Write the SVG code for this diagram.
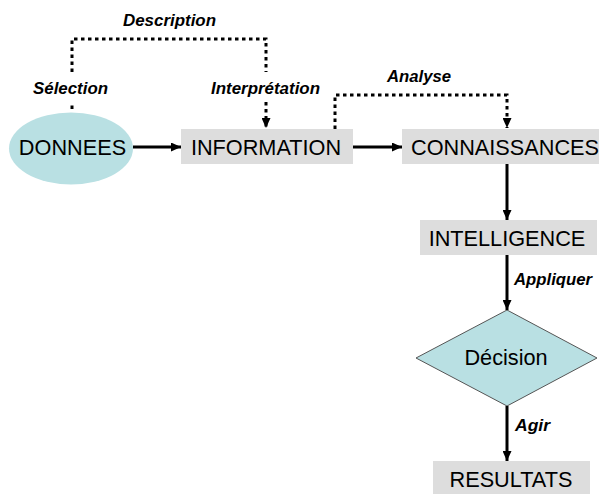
<svg xmlns="http://www.w3.org/2000/svg" width="599" height="494" viewBox="0 0 599 494">
<style>
.box{fill:#dddddd}
.teal{fill:#b9e0e3}
.node{font-family:"Liberation Sans",Arial,sans-serif;font-size:21.7px;fill:#000}
.lbl{font-family:"Liberation Sans",Arial,sans-serif;font-size:16px;font-weight:bold;font-style:italic;fill:#000}
.solid{fill:none;stroke:#000;stroke-width:3}
.dot{fill:none;stroke:#000;stroke-width:3;stroke-dasharray:3.5 3.5}
</style>
<defs>
<marker id="ah" markerUnits="userSpaceOnUse" viewBox="0 0 10 9" refX="10" refY="4.5" markerWidth="10" markerHeight="9" orient="auto">
<path d="M0,0 L10,4.5 L0,9 z" fill="#000"/>
</marker>
</defs>
<rect width="599" height="494" fill="#fff"/>
<g id="donnees">
<ellipse class="teal" cx="71" cy="148.5" rx="62" ry="36"/>
<text class="node" x="72.5" y="155" text-anchor="middle">DONNEES</text>
</g>
<g id="information">
<rect class="box" x="181" y="129" width="172" height="35"/>
<text class="node" x="266" y="155" text-anchor="middle">INFORMATION</text>
</g>
<g id="connaissances">
<rect class="box" x="402" y="129" width="197" height="35"/>
<text class="node" x="411" y="155">CONNAISSANCES</text>
</g>
<g id="intelligence">
<rect class="box" x="420" y="220" width="177" height="35"/>
<text class="node" x="507" y="246" text-anchor="middle">INTELLIGENCE</text>
</g>
<g id="decision">
<polygon points="507,310 597,358 507,406 416,358" fill="#b9e0e3" stroke="#555" stroke-width="1"/>
<text class="node" x="506" y="365" text-anchor="middle">Décision</text>
</g>
<g id="resultats">
<rect class="box" x="433" y="461" width="157" height="33"/>
<text class="node" x="511" y="487" text-anchor="middle">RESULTATS</text>
</g>
<g id="connectors">
<path class="solid" d="M133,147 H181" marker-end="url(#ah)"/>
<path class="solid" d="M353,147 H402" marker-end="url(#ah)"/>
<path class="solid" d="M507,164 V220" marker-end="url(#ah)"/>
<path class="solid" d="M507,255 V310" marker-end="url(#ah)"/>
<path class="solid" d="M507,406 V461" marker-end="url(#ah)"/>
<path class="dot" d="M72,109 V102"/>
<path class="dot" d="M72,72 V39 H266 V72"/>
<path class="dot" d="M266,102 V128" marker-end="url(#ah)"/>
<path class="dot" d="M335,129 V95 H507 V128" marker-end="url(#ah)"/>
</g>
<g id="labels">
<text class="lbl" x="123" y="26" textLength="93" lengthAdjust="spacingAndGlyphs">Description</text>
<text class="lbl" x="33" y="94" textLength="75" lengthAdjust="spacingAndGlyphs">Sélection</text>
<text class="lbl" x="211" y="94" textLength="109" lengthAdjust="spacingAndGlyphs">Interprétation</text>
<text class="lbl" x="387" y="82" textLength="64" lengthAdjust="spacingAndGlyphs">Analyse</text>
<text class="lbl" x="514" y="285" textLength="78" lengthAdjust="spacingAndGlyphs">Appliquer</text>
<text class="lbl" x="515" y="431" textLength="35" lengthAdjust="spacingAndGlyphs">Agir</text>
</g>
</svg>
